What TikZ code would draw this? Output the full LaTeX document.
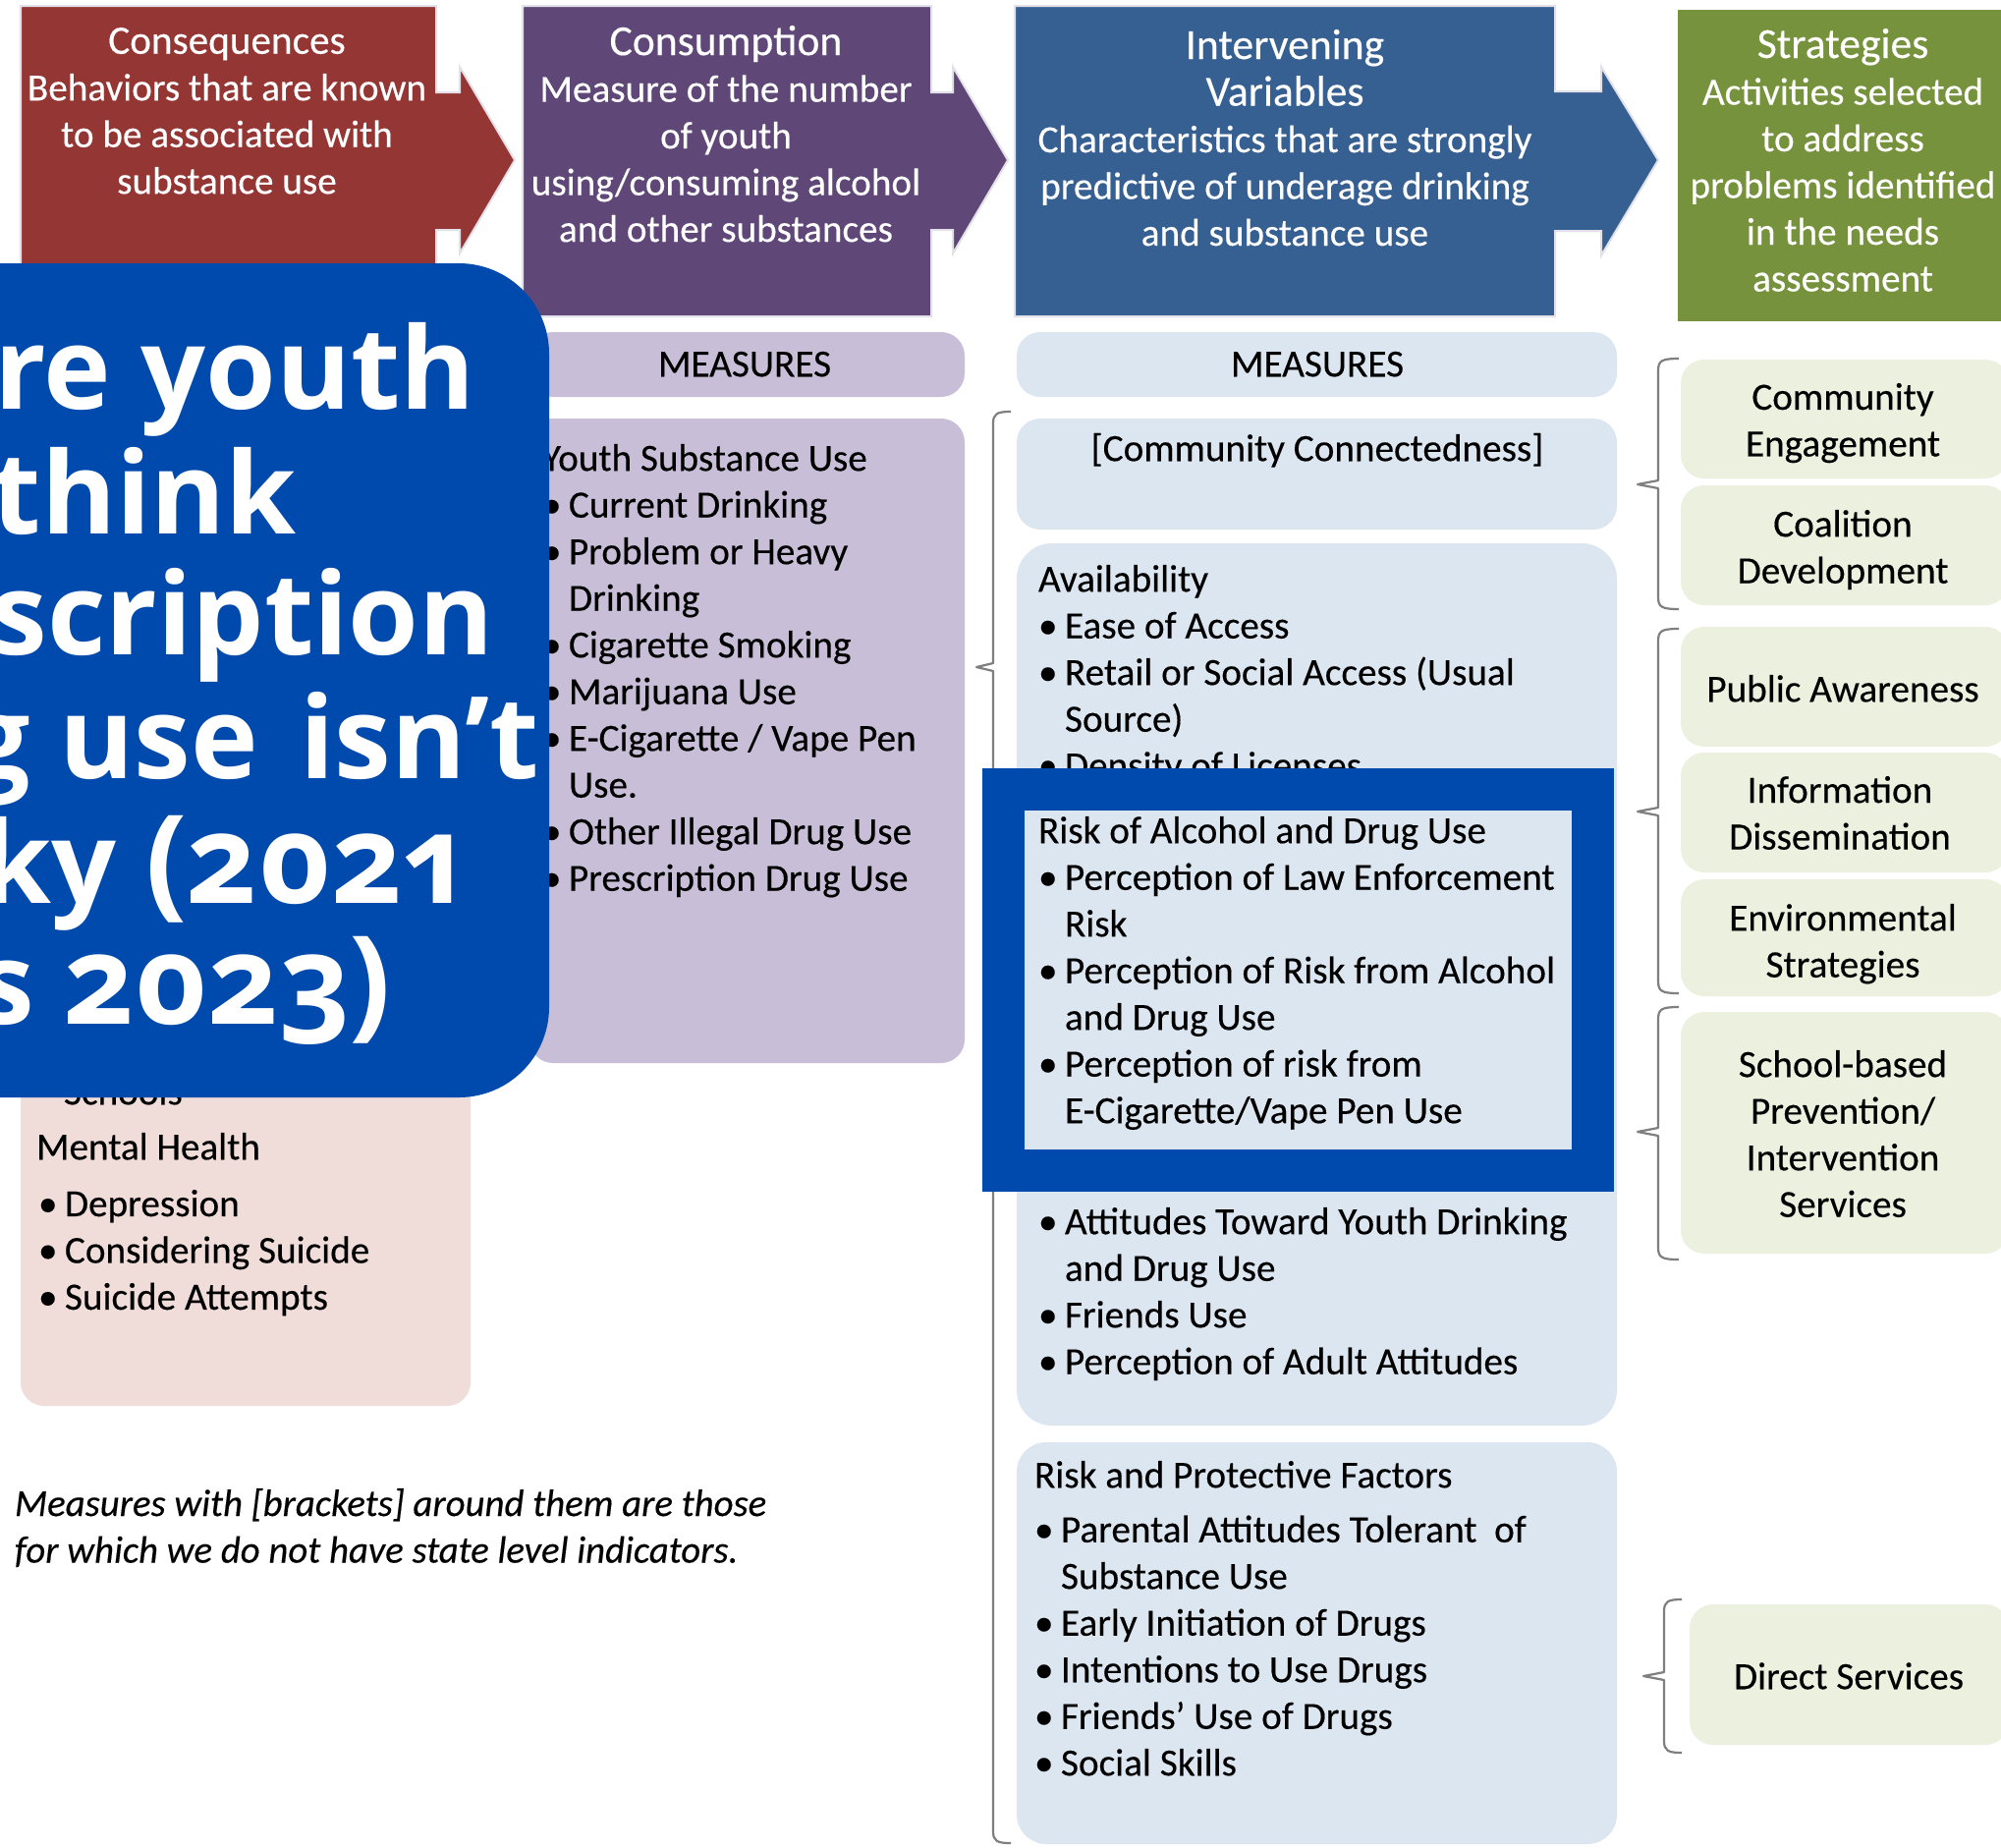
\documentclass[tikz,border=0pt]{standalone}
\usepackage{fontspec}
\setmainfont{Carlito}[FakeBold=0.3]
\newfontfamily\bigfont[Numbers=OldStyle]{Open Sans}
\definecolor{cred}{HTML}{943634}
\definecolor{cpur}{HTML}{5F4778}
\definecolor{cblu}{HTML}{376092}
\definecolor{cgrn}{HTML}{76923C}
\definecolor{lpink}{HTML}{F0DCD8}
\definecolor{lpur}{HTML}{C8BED8}
\definecolor{lblu}{HTML}{DCE6F1}
\definecolor{lgrn}{HTML}{EBF1DE}
\definecolor{over}{HTML}{004AAD}
\definecolor{edge}{HTML}{E2E0E8}
\definecolor{brk}{HTML}{7F7F7F}
\newcommand\boxn[6]{\node[#6,minimum width={(#4-#2)*0.5pt},minimum height={(#5-#3)*0.5pt}] (#1) at ({(#2+#4)/2},{(#3+#5)/2}) {};}
\newcommand\bul{\makebox[13.5pt][l]{•}}
\newcommand\cont{\hspace*{13.5pt}}
\newcommand\ttl[1]{{\fontsize{21.8}{23.75}\selectfont #1}}
\newcommand\digs[1]{{\fontsize{62.5}{60}\selectfont #1}}
\tikzset{
 x=0.5pt,y=-0.5pt,
 plain/.style={inner sep=0pt,outer sep=0pt,rectangle},
 soft/.style={plain,rounded corners=12pt},
 bluebox/.style={soft,fill=lblu},
 purbox/.style={soft,fill=lpur},
 pinkbox/.style={soft,fill=lpink},
 grnbox/.style={soft,fill=lgrn},
 txt/.style={inner sep=0pt,outer sep=0pt,font=\fontsize{19.6}{23.75}\selectfont,execute at begin node=\strut},
 ctxt/.style={txt,align=center,anchor=north},
 ltxt/.style={txt,align=left,anchor=north west},
 wtxt/.style={ctxt,text=white},
 bigtxt/.style={inner sep=0pt,outer sep=0pt,anchor=base east,text=white,font=\bigfont\bfseries\fontsize{58}{60}\selectfont},
 bracket/.style={brk,line width=1.1pt,line join=round},
}
\newcommand\bracesh[6]{% x xtip xend y1 ytip y2
 \draw[bracket] (#3,#4) .. controls (#1+4,#4) and (#1,#4+2) .. (#1,#4+12) -- (#1,#5-4) -- (#2,#5) -- (#1,#5+4) -- (#1,#6-12) .. controls (#1,#6-2) and (#1+4,#6) .. (#3,#6);}
\begin{document}
\begin{tikzpicture}
\useasboundingbox (0,0) rectangle (2037,1880);
\fill[white] (0,0) rectangle (2037,1880);
% header arrows
\fill[cred,draw=edge,line width=1pt] (21,6) -- (444,6) -- (444,94) -- (468,94) -- (468,68) -- (524,163) -- (468,258) -- (468,234) -- (444,234) -- (444,322) -- (21,322) -- cycle;
\fill[cpur,draw=edge,line width=1pt] (532,6) -- (948,6) -- (948,94) -- (970,94) -- (970,68) -- (1026,163) -- (970,258) -- (970,234) -- (948,234) -- (948,322) -- (532,322) -- cycle;
\fill[cblu,draw=edge,line width=1pt] (1033,6) -- (1583,6) -- (1583,93) -- (1630,93) -- (1630,68) -- (1688,163) -- (1630,260) -- (1630,235) -- (1583,235) -- (1583,322) -- (1033,322) -- cycle;
\boxn{hstrat}{1708}{10}{2045}{327}{plain,fill=cgrn}
\node[wtxt] (tcons) at (231,28) {{\fontsize{20.6}{23.75}\selectfont Consequences}\\Behaviors that are known\\to be associated with\\substance use};
\node[wtxt] (tcsm) at (739,26) {\ttl{Consumption}\\Measure of the number\\of youth\\using/consuming alcohol\\and other substances};
\node[wtxt] (tint) at (1308,30) {\ttl{Intervening}\\\ttl{Variables}\\Characteristics that are strongly\\predictive of underage drinking\\and substance use};
\node[wtxt] (tstr) at (1876,29) {\ttl{Strategies}\\Activities selected\\to address\\problems identified\\in the needs\\assessment};
% measures bars
\boxn{mpur}{539}{338}{982}{404}{purbox}
\boxn{mblu}{1035}{338}{1646}{404}{bluebox}
\node[ctxt] (tmpur) at (758,350) {MEASURES};
\node[ctxt] (tmblu) at (1341,350) {MEASURES};
% left column
\boxn{bpink}{21}{1000}{479}{1431}{pinkbox}
\node[ltxt] (tschools) at (65,1091) {Schools};
\node[ltxt] (tmh) at (37,1147) {Mental Health};
\node[ltxt] (tdep) at (39,1211) {\bul Depression\\\bul Considering Suicide\\\bul Suicide Attempts};
% consumption column
\boxn{bcsm}{539}{426}{982}{1082}{purbox}
\node[ltxt] (tyouth) at (552,452) {Youth Substance Use\\\bul Current Drinking\\\bul Problem or Heavy\\\cont Drinking\\\bul Cigarette Smoking\\\bul Marijuana Use\\\bul E-Cigarette / Vape Pen\\\cont Use.\\\bul Other Illegal Drug Use\\\bul Prescription Drug Use};
% intervening column
\boxn{bcom}{1035}{426}{1646}{539}{bluebox}
\node[ctxt] (tcom) at (1341,436) {[Community Connectedness]};
\boxn{bav}{1035}{553}{1646}{1451}{bluebox,rounded corners=18pt}
\node[ltxt] (tav) at (1057,575) {Availability\\\bul Ease of Access\\\bul Retail or Social Access (Usual\\\cont Source)\\\bul Density of Licenses};
\node[ltxt] (trisk) at (1057,831) {Risk of Alcohol and Drug Use\\\bul Perception of Law Enforcement\\\cont Risk\\\bul Perception of Risk from Alcohol\\\cont and Drug Use\\\bul Perception of risk from\\\cont E-Cigarette/Vape Pen Use};
\node[ltxt] (tatt) at (1057,1229) {\bul Attitudes Toward Youth Drinking\\\cont and Drug Use\\\bul Friends Use\\\bul Perception of Adult Attitudes};
\boxn{brp}{1035}{1468}{1646}{1877}{bluebox,rounded corners=15pt}
\node[ltxt] (trp) at (1053,1487) {Risk and Protective Factors\\[4pt]\bul Parental Attitudes Tolerant\ \ of\\\cont Substance Use\\\bul Early Initiation of Drugs\\\bul Intentions to Use Drugs\\\bul Friends' Use of Drugs\\\bul Social Skills};
% strategy boxes
\boxn{s1}{1711}{366}{2045}{487}{grnbox}
\boxn{s2}{1711}{494}{2045}{616}{grnbox}
\boxn{s3}{1711}{638}{2045}{760}{grnbox}
\boxn{s4}{1711}{766}{2045}{888}{grnbox}
\boxn{s5}{1711}{895}{2045}{1014}{grnbox}
\boxn{s6}{1711}{1030}{2045}{1276}{grnbox}
\boxn{s7}{1720}{1633}{2045}{1776}{grnbox}
\node[ctxt] (ts1) at (1876,390) {Community\\Engagement};
\node[ctxt] (ts2) at (1876,519) {Coalition\\Development};
\node[ctxt] (ts3) at (1876,681) {Public Awareness};
\node[ctxt] (ts4) at (1873,790) {Information\\Dissemination};
\node[ctxt] (ts5) at (1876,920) {Environmental\\Strategies};
\node[ctxt] (ts6) at (1876,1069) {School-based\\Prevention/\\Intervention\\Services};
\node[ctxt] (ts7) at (1882,1686) {Direct Services};
% brackets
\bracesh{1011}{994}{1029}{419}{679}{1876}
\bracesh{1688}{1667}{1709}{365}{493}{620}
\bracesh{1688}{1667}{1709}{640}{826}{1011}
\bracesh{1688}{1667}{1709}{1025}{1152}{1282}
\bracesh{1694}{1673}{1712}{1628}{1706}{1784}
% footnote
\node[ltxt,font=\itshape\fontsize{19.4}{23.75}\selectfont] (tnote) at (15,1515) {Measures with [brackets] around them are those\\for which we do not have state level indicators.};
% highlight frame
\boxn{frame}{1021.5}{803.5}{1621.5}{1191.5}{plain,draw=over,line width=21.5pt}
% overlay
\boxn{ov}{-300}{268}{559}{1117}{plain,fill=over,rounded corners=46pt}
\node[bigtxt] (o1) at (484,416) {re youth};
\node[bigtxt] (o2) at (302,543) {think};
\node[bigtxt] (o3) at (503,666) {scription};
\node[bigtxt] (o4) at (549,792) {g use\hspace{6pt} isn’t};
\node[bigtxt] (o5) at (471,919) {ky \digs{(2021}};
\node[bigtxt] (o6) at (398,1042) {s \digs{2023)}};
\end{tikzpicture}
\end{document}
